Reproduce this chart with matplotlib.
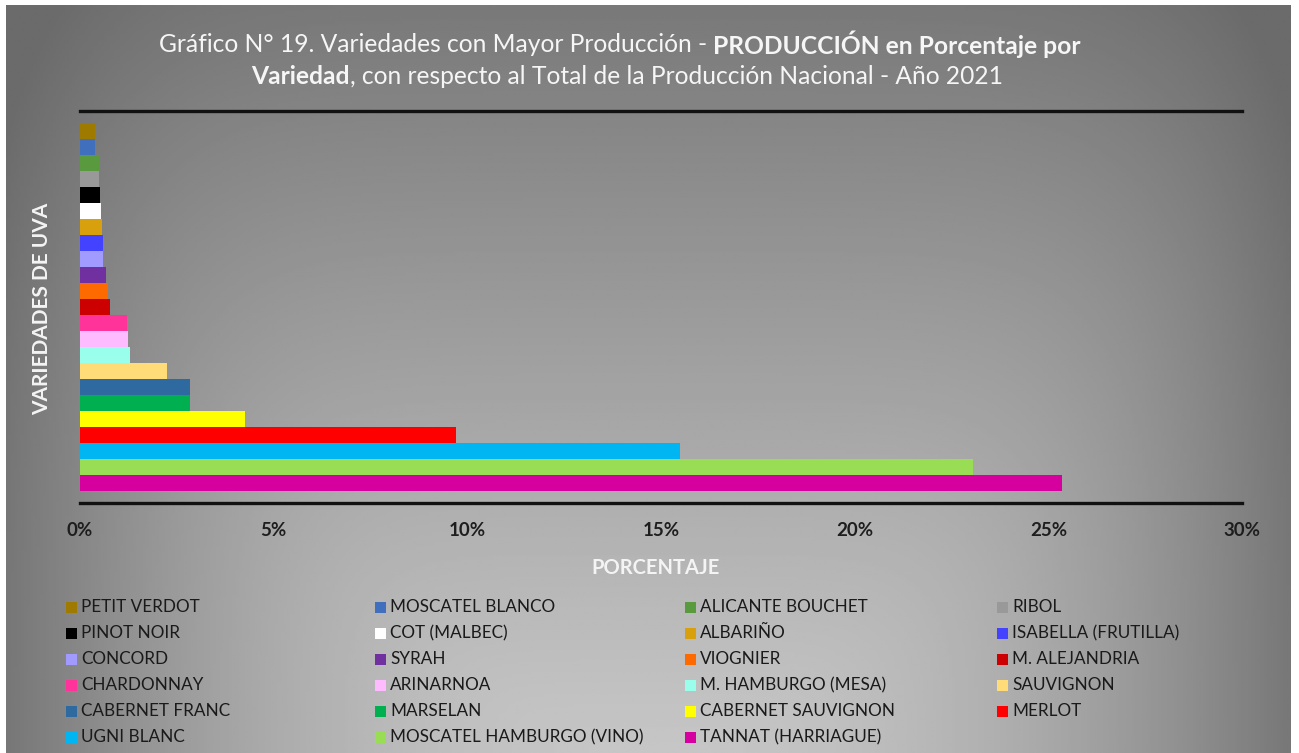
import numpy as np
import matplotlib
matplotlib.use('Agg')
import matplotlib.pyplot as plt
from matplotlib.patches import Rectangle

plt.rcParams['font.family'] = ['Lato', 'DejaVu Sans']

#--------------------------------------------------------------------------------------------
# Data (series order as in the legend, top bar first)
variedades = ['PETIT VERDOT', 'MOSCATEL BLANCO', 'ALICANTE BOUCHET', 'RIBOL',
              'PINOT NOIR', 'COT (MALBEC)', 'ALBARIÑO', 'ISABELLA (FRUTILLA)',
              'CONCORD', 'SYRAH', 'VIOGNIER', 'M. ALEJANDRIA',
              'CHARDONNAY', 'ARINARNOA', 'M. HAMBURGO (MESA)', 'SAUVIGNON',
              'CABERNET FRANC', 'MARSELAN', 'CABERNET SAUVIGNON', 'MERLOT',
              'UGNI BLANC', 'MOSCATEL HAMBURGO (VINO)', 'TANNAT (HARRIAGUE)']

porcentaje = [0.40, 0.40, 0.48, 0.50,
              0.52, 0.53, 0.56, 0.59,
              0.60, 0.67, 0.72, 0.78,
              1.21, 1.25, 1.28, 2.24,
              2.83, 2.84, 4.27, 9.70,
              15.49, 23.06, 25.36]

colores = ['#9e7b00', '#3f6fbd', '#5a9a3e', '#999999',
           '#000000', '#ffffff', '#d8a00c', '#4343ff',
           '#a19bff', '#7030a0', '#ff6a00', '#cc0000',
           '#ff3399', '#ffbbff', '#99ffec', '#ffdc78',
           '#2e6aa0', '#00b050', '#ffff00', '#ff0000',
           '#00b6f2', '#99dd55', '#d6009e']

ticks_x = [0, 5, 10, 15, 20, 25, 30]

W, H = 1299, 753
fig = plt.figure(figsize=(W / 100, H / 100), dpi=100)
fig.patch.set_facecolor('white')

#--------------------------------------------------------------------------------------------
# Gray background gradient (lighter at bottom centre, darker to the edges)
bg = fig.add_axes([0, 0, 1, 1])
bg.set_xlim(0, W)
bg.set_ylim(H, 0)
bg.axis('off')
xx, yy = np.meshgrid(np.linspace(6, 1291, 400), np.linspace(5, 753, 300))
fx = (np.abs(xx - 650) / 660) ** 2.0
fy = (np.abs(yy - 753) / 800) ** 1.1
f = np.clip((fx ** 3 + fy ** 3) ** (1 / 3), 0, 1.1)
light, dark = 198, 115
val = light - (light - dark) * f
bg.imshow(val, extent=(6, 1291, 753, 5), cmap='gray', vmin=0, vmax=255,
          aspect='auto', interpolation='bilinear')

#--------------------------------------------------------------------------------------------
# Bars
ax = fig.add_axes([80 / W, 1 - 503 / H, (1242 - 80) / W, (503 - 111) / H])
ax.patch.set_alpha(0)
n = len(variedades)
ypos = np.arange(n)[::-1]
ax.barh(ypos, porcentaje, height=1.0, color=colores, linewidth=0)
ax.set_xlim(0, 30)
ax.set_ylim(-1.23, n - 1 + 1.25)
ax.set_yticks([])
ax.set_xticks(ticks_x)
ax.set_xticklabels([f'{t}%' for t in ticks_x], fontsize=13.5, fontweight='bold', color='#1e1e1e')
ax.tick_params(axis='x', length=0, pad=14)
for s in ['left', 'right']:
    ax.spines[s].set_visible(False)
for s in ['top', 'bottom']:
    ax.spines[s].set_linewidth(2.4)
    ax.spines[s].set_color('#111111')

fig.text(656 / W, 1 - 568 / H, 'PORCENTAJE', ha='center', va='center',
         fontsize=14.5, fontweight='bold', color='#f4f4f4')
fig.text(42 / W, 1 - 309 / H, 'VARIEDADES DE UVA', ha='center', va='center', rotation=90,
         fontsize=15, fontweight='bold', color='#f4f4f4')

#--------------------------------------------------------------------------------------------
# Title with mixed weights
renderer = fig.canvas.get_renderer()
def linea(partes, ycen, xcen, size=17.7):
    objs = []
    for txt, w in partes:
        t = fig.text(0, 1 - ycen / H, txt, fontsize=size, fontweight=w, color='#f6f6f6',
                     ha='left', va='center')
        objs.append(t)
    widths = [t.get_window_extent(renderer).width for t in objs]
    x = xcen - sum(widths) / 2
    for t, wd in zip(objs, widths):
        t.set_x(x / W)
        x += wd

linea([('Gráfico N° 19. Variedades con Mayor Producción - ', 'normal'),
       ('PRODUCCIÓN en Porcentaje por', 'bold')], 44, 620)
linea([('Variedad', 'bold'),
       (', con respecto al Total de la Producción Nacional - Año 2021', 'normal')], 77, 627)

#--------------------------------------------------------------------------------------------
# Legend (row-major, 4 columns)
col_x = [66, 375, 685, 997]
row_y = [607, 633, 659, 685, 711, 737]
for i, (lab, c) in enumerate(zip(variedades, colores)):
    cx = col_x[i % 4]
    cy = row_y[i // 4]
    fig.patches.append(Rectangle((cx / W, 1 - (cy + 5.5) / H), 11 / W, 11 / H,
                                 transform=fig.transFigure, facecolor=c, edgecolor='none'))
    fig.text((cx + 15) / W, 1 - cy / H, lab, ha='left', va='center',
             fontsize=12.3, color='#1a1a1a')

fig.savefig('out.png', dpi=100)
